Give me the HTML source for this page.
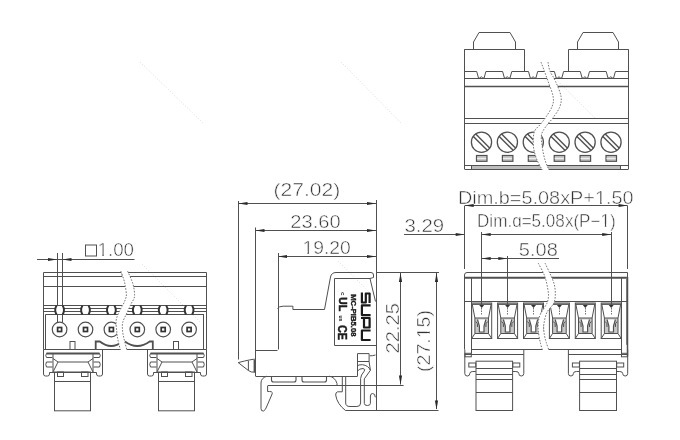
<!DOCTYPE html>
<html><head><meta charset="utf-8"><style>
html,body{margin:0;padding:0;background:#fff;width:680px;height:440px;overflow:hidden}
svg{display:block;will-change:transform}
text{font-family:"Liberation Sans",sans-serif}
</style></head><body>
<svg width="680" height="440" viewBox="0 0 680 440" stroke="#505050" fill="none" stroke-linecap="butt">
<rect x="0" y="0" width="680" height="440" fill="#fff" stroke="none"/>
<line x1="338" y1="261" x2="372" y2="295" stroke="#dddddd" stroke-width="1" stroke-dasharray="1,2"/>
<line x1="557.7" y1="81" x2="596" y2="119" stroke="#dddddd" stroke-width="1" stroke-dasharray="1,2"/>
<line x1="142" y1="264" x2="200" y2="322" stroke="#dddddd" stroke-width="1" stroke-dasharray="1,2"/>
<line x1="341" y1="62" x2="401" y2="123" stroke="#dddddd" stroke-width="1" stroke-dasharray="1,2"/>
<line x1="140" y1="62" x2="203" y2="123" stroke="#dddddd" stroke-width="1" stroke-dasharray="1,2"/>
<line x1="37.00" y1="259.50" x2="134.50" y2="259.50" stroke-width="1"/>
<path d="M57.00,259.50 L48.00,261.10 L48.00,257.90 Z" fill="#2a2a2a" stroke="none"/>
<path d="M62.50,259.50 L71.50,257.90 L71.50,261.10 Z" fill="#2a2a2a" stroke="none"/>
<line x1="57.50" y1="253.00" x2="57.50" y2="322.00" stroke-width="1"/>
<line x1="62.50" y1="253.00" x2="62.50" y2="322.00" stroke-width="1"/>
<rect x="85.50" y="245.00" width="11.00" height="11.00" stroke-width="1" fill="none"/>
<text x="97.50" y="256.30" font-size="17.5" text-anchor="start" fill="#333" stroke="#fff" stroke-width="0.5" textLength="36.5" lengthAdjust="spacingAndGlyphs">1.00</text>
<path d="M43.5,349.5 L43.5,272.5 L121,272.5 M128,272.5 L206.5,272.5 L206.5,349.5" stroke-width="1" fill="none"/>
<path d="M121,272.5 Q123.5,273 122,276.5 M128,272.5 Q126.5,274 128,276.5" stroke-width="1" fill="none"/>
<line x1="43.50" y1="276.50" x2="122.00" y2="276.50" stroke-width="1"/>
<line x1="128.00" y1="276.50" x2="206.50" y2="276.50" stroke-width="1"/>
<line x1="43.50" y1="286.50" x2="125.00" y2="286.50" stroke-width="1"/>
<line x1="133.00" y1="286.50" x2="206.50" y2="286.50" stroke-width="1"/>
<line x1="43.50" y1="305.50" x2="122.00" y2="305.50" stroke-width="1"/>
<line x1="129.00" y1="305.50" x2="206.50" y2="305.50" stroke-width="1"/>
<line x1="43.50" y1="308.50" x2="121.00" y2="308.50" stroke-width="1"/>
<line x1="128.00" y1="308.50" x2="206.50" y2="308.50" stroke-width="1"/>
<line x1="43.50" y1="311.50" x2="120.00" y2="311.50" stroke-width="1"/>
<line x1="127.00" y1="311.50" x2="206.50" y2="311.50" stroke-width="1"/>
<line x1="45.50" y1="314.50" x2="119.00" y2="314.50" stroke-width="1"/>
<line x1="126.00" y1="314.50" x2="204.00" y2="314.50" stroke-width="1"/>
<line x1="45.50" y1="314.50" x2="45.50" y2="349.50" stroke-width="1"/>
<line x1="203.50" y1="314.50" x2="203.50" y2="349.50" stroke-width="1"/>
<line x1="43.50" y1="349.50" x2="206.50" y2="349.50" stroke-width="1"/>
<rect x="55.60" y="306" width="8" height="8" fill="#fff" stroke="none"/>
<path d="M56.60,305.5 Q53.80,310 56.60,314.5 M62.60,305.5 Q65.40,310 62.60,314.5" stroke-width="1.9" fill="none" stroke="#333"/>
<circle cx="59.60" cy="329.5" r="7.3" fill="none" stroke-width="1.2"/>
<rect x="57.60" y="327.5" width="4" height="4" fill="none" stroke-width="1.7" stroke="#333"/>
<rect x="81.50" y="306" width="8" height="8" fill="#fff" stroke="none"/>
<path d="M82.50,305.5 Q79.70,310 82.50,314.5 M88.50,305.5 Q91.30,310 88.50,314.5" stroke-width="1.9" fill="none" stroke="#333"/>
<circle cx="85.50" cy="329.5" r="7.3" fill="none" stroke-width="1.2"/>
<rect x="83.50" y="327.5" width="4" height="4" fill="none" stroke-width="1.7" stroke="#333"/>
<rect x="107.40" y="306" width="8" height="8" fill="#fff" stroke="none"/>
<path d="M108.40,305.5 Q105.60,310 108.40,314.5 M114.40,305.5 Q117.20,310 114.40,314.5" stroke-width="1.9" fill="none" stroke="#333"/>
<circle cx="111.40" cy="329.5" r="7.3" fill="none" stroke-width="1.2"/>
<rect x="109.40" y="327.5" width="4" height="4" fill="none" stroke-width="1.7" stroke="#333"/>
<rect x="133.30" y="306" width="8" height="8" fill="#fff" stroke="none"/>
<path d="M134.30,305.5 Q131.50,310 134.30,314.5 M140.30,305.5 Q143.10,310 140.30,314.5" stroke-width="1.9" fill="none" stroke="#333"/>
<circle cx="137.30" cy="329.5" r="7.3" fill="none" stroke-width="1.2"/>
<rect x="135.30" y="327.5" width="4" height="4" fill="none" stroke-width="1.7" stroke="#333"/>
<rect x="159.20" y="306" width="8" height="8" fill="#fff" stroke="none"/>
<path d="M160.20,305.5 Q157.40,310 160.20,314.5 M166.20,305.5 Q169.00,310 166.20,314.5" stroke-width="1.9" fill="none" stroke="#333"/>
<circle cx="163.20" cy="329.5" r="7.3" fill="none" stroke-width="1.2"/>
<rect x="161.20" y="327.5" width="4" height="4" fill="none" stroke-width="1.7" stroke="#333"/>
<rect x="185.10" y="306" width="8" height="8" fill="#fff" stroke="none"/>
<path d="M186.10,305.5 Q183.30,310 186.10,314.5 M192.10,305.5 Q194.90,310 192.10,314.5" stroke-width="1.9" fill="none" stroke="#333"/>
<circle cx="189.10" cy="329.5" r="7.3" fill="none" stroke-width="1.2"/>
<rect x="187.10" y="327.5" width="4" height="4" fill="none" stroke-width="1.7" stroke="#333"/>
<rect x="70.00" y="341.50" width="5.00" height="8.00" stroke-width="1" fill="none"/>
<rect x="173.50" y="341.50" width="5.00" height="8.00" stroke-width="1" fill="none"/>
<path d="M95.7,349.5 L95.7,341.5 L99.8,341.5 Q111.2,350.5 122.6,341.5" stroke-width="1.8" fill="none"/>
<path d="M124.9,341.5 Q137.2,350.5 149.7,341.5 L152.8,341.5 L152.8,349.5" stroke-width="1.8" fill="none"/>
<path d="M43.50,349.5 L43.50,374 Q43.50,376 45.50,376 L47.50,376 Q49.50,376 49.50,374 L49.50,372.5 L96.50,372.5 L96.50,374 Q96.50,376 98.50,376 L100.50,376 Q102.50,376 102.50,374 L102.50,349.5" stroke-width="1" fill="none"/>
<line x1="46.50" y1="353.50" x2="99.50" y2="353.50" stroke-width="1.8"/>
<path d="M46.50,353.5 L52.50,353.5 M46.50,357.5 L52.50,357.5 M46.50,362 L52.50,362 M46.50,367 L52.50,367 M46.50,353.5 Q45.00,355.5 46.50,357.5 M46.50,362 Q45.00,364.5 46.50,367" stroke-width="1" fill="none"/>
<path d="M99.50,353.5 L93.50,353.5 M99.50,357.5 L93.50,357.5 M99.50,362 L93.50,362 M99.50,367 L93.50,367 M99.50,353.5 Q101.00,355.5 99.50,357.5 M99.50,362 Q101.00,364.5 99.50,367" stroke-width="1" fill="none"/>
<path d="M53.00,353.5 L53.00,372.5 M93.00,353.5 L93.00,372.5" stroke-width="1" fill="none"/>
<path d="M58.00,362 L88.00,362 M53.00,372.5 L93.00,372.5 M58.00,362 L53.00,372 M88.00,362 L93.00,372 M53.00,358.5 L58.00,362 M93.00,358.5 L88.00,362" stroke-width="1" fill="none"/>
<rect x="57.50" y="372.00" width="6.00" height="4.50" stroke-width="1" fill="none"/>
<rect x="81.50" y="372.00" width="6.50" height="4.50" stroke-width="1" fill="none"/>
<rect x="54.50" y="372.00" width="36.00" height="38.80" stroke-width="1" fill="none"/>
<line x1="54.50" y1="381.50" x2="90.50" y2="381.50" stroke-width="1"/>
<path d="M147.50,349.5 L147.50,374 Q147.50,376 149.50,376 L151.50,376 Q153.50,376 153.50,374 L153.50,372.5 L200.50,372.5 L200.50,374 Q200.50,376 202.50,376 L204.50,376 Q206.50,376 206.50,374 L206.50,349.5" stroke-width="1" fill="none"/>
<line x1="150.50" y1="353.50" x2="203.50" y2="353.50" stroke-width="1.8"/>
<path d="M150.50,353.5 L156.50,353.5 M150.50,357.5 L156.50,357.5 M150.50,362 L156.50,362 M150.50,367 L156.50,367 M150.50,353.5 Q149.00,355.5 150.50,357.5 M150.50,362 Q149.00,364.5 150.50,367" stroke-width="1" fill="none"/>
<path d="M203.50,353.5 L197.50,353.5 M203.50,357.5 L197.50,357.5 M203.50,362 L197.50,362 M203.50,367 L197.50,367 M203.50,353.5 Q205.00,355.5 203.50,357.5 M203.50,362 Q205.00,364.5 203.50,367" stroke-width="1" fill="none"/>
<path d="M157.00,353.5 L157.00,372.5 M197.00,353.5 L197.00,372.5" stroke-width="1" fill="none"/>
<path d="M162.00,362 L192.00,362 M157.00,372.5 L197.00,372.5 M162.00,362 L157.00,372 M192.00,362 L197.00,372 M157.00,358.5 L162.00,362 M197.00,358.5 L192.00,362" stroke-width="1" fill="none"/>
<rect x="161.50" y="372.00" width="6.00" height="4.50" stroke-width="1" fill="none"/>
<rect x="185.50" y="372.00" width="6.50" height="4.50" stroke-width="1" fill="none"/>
<rect x="158.50" y="372.00" width="36.00" height="38.80" stroke-width="1" fill="none"/>
<line x1="158.50" y1="381.50" x2="194.50" y2="381.50" stroke-width="1"/>
<path d="M120.80,271.00 C121.32,272.48 123.13,277.30 123.90,279.90 C124.67,282.50 124.98,284.12 125.40,286.60 C125.82,289.08 126.38,292.73 126.40,294.80 C126.42,296.87 126.00,297.47 125.50,299.00 C125.00,300.53 124.35,302.07 123.40,304.00 C122.45,305.93 121.00,307.92 119.80,310.60 C118.60,313.28 116.70,316.55 116.20,320.10 C115.70,323.65 116.50,328.55 116.80,331.90 C117.10,335.25 117.40,337.18 118.00,340.20 C118.60,343.22 120.00,348.37 120.40,350.00 L126.90,350.00 C126.50,348.47 125.20,343.82 124.50,340.80 C123.80,337.78 123.00,334.95 122.70,331.90 C122.40,328.85 122.00,325.65 122.70,322.50 C123.40,319.35 125.52,316.08 126.90,313.00 C128.28,309.92 129.85,306.33 131.00,304.00 C132.15,301.67 133.20,300.53 133.80,299.00 C134.40,297.47 134.63,296.87 134.60,294.80 C134.57,292.73 134.12,289.08 133.60,286.60 C133.08,284.12 132.52,282.50 131.50,279.90 C130.48,277.30 128.17,272.48 127.50,271.00 Z" fill="#fff" stroke="none"/>
<path d="M120.80,271.00 C121.32,272.48 123.13,277.30 123.90,279.90 C124.67,282.50 124.98,284.12 125.40,286.60 C125.82,289.08 126.38,292.73 126.40,294.80 C126.42,296.87 126.00,297.47 125.50,299.00 C125.00,300.53 124.35,302.07 123.40,304.00 C122.45,305.93 121.00,307.92 119.80,310.60 C118.60,313.28 116.70,316.55 116.20,320.10 C115.70,323.65 116.50,328.55 116.80,331.90 C117.10,335.25 117.40,337.18 118.00,340.20 C118.60,343.22 120.00,348.37 120.40,350.00" fill="none" stroke-width="1" stroke-dasharray="1.6,1.4" stroke="#777"/>
<path d="M127.50,271.00 C128.17,272.48 130.48,277.30 131.50,279.90 C132.52,282.50 133.08,284.12 133.60,286.60 C134.12,289.08 134.57,292.73 134.60,294.80 C134.63,296.87 134.40,297.47 133.80,299.00 C133.20,300.53 132.15,301.67 131.00,304.00 C129.85,306.33 128.28,309.92 126.90,313.00 C125.52,316.08 123.40,319.35 122.70,322.50 C122.00,325.65 122.40,328.85 122.70,331.90 C123.00,334.95 123.80,337.78 124.50,340.80 C125.20,343.82 126.50,348.47 126.90,350.00" fill="none" stroke-width="1" stroke-dasharray="1.6,1.4" stroke="#777"/>
<line x1="238.50" y1="201.00" x2="238.50" y2="359.50" stroke-width="1"/>
<line x1="255.50" y1="227.50" x2="255.50" y2="376.00" stroke-width="1"/>
<line x1="278.50" y1="253.00" x2="278.50" y2="349.50" stroke-width="1"/>
<line x1="376.50" y1="200.00" x2="376.50" y2="411.00" stroke-width="1"/>
<line x1="238.50" y1="203.50" x2="376.00" y2="203.50" stroke-width="1"/>
<path d="M238.50,203.50 L247.50,201.90 L247.50,205.10 Z" fill="#2a2a2a" stroke="none"/>
<path d="M376.00,203.50 L367.00,205.10 L367.00,201.90 Z" fill="#2a2a2a" stroke="none"/>
<line x1="255.50" y1="230.50" x2="376.00" y2="230.50" stroke-width="1"/>
<path d="M255.50,230.50 L264.50,228.90 L264.50,232.10 Z" fill="#2a2a2a" stroke="none"/>
<path d="M376.00,230.50 L367.00,232.10 L367.00,228.90 Z" fill="#2a2a2a" stroke="none"/>
<line x1="278.00" y1="256.50" x2="376.00" y2="256.50" stroke-width="1"/>
<path d="M278.00,256.50 L287.00,254.90 L287.00,258.10 Z" fill="#2a2a2a" stroke="none"/>
<path d="M376.00,256.50 L367.00,258.10 L367.00,254.90 Z" fill="#2a2a2a" stroke="none"/>
<text x="273.50" y="196.00" font-size="17.5" text-anchor="start" fill="#333" stroke="#fff" stroke-width="0.5" textLength="66.7" lengthAdjust="spacingAndGlyphs">(27.02)</text>
<text x="290.30" y="227.80" font-size="17.5" text-anchor="start" fill="#333" stroke="#fff" stroke-width="0.5" textLength="50.3" lengthAdjust="spacingAndGlyphs">23.60</text>
<text x="302.50" y="253.90" font-size="17.5" text-anchor="start" fill="#333" stroke="#fff" stroke-width="0.5" textLength="48.3" lengthAdjust="spacingAndGlyphs">19.20</text>
<path d="M277.5,308.5 Q279,306.2 283.2,306.2 L292.9,306.2 L292.9,309.5 L324.5,309.5 L330.5,277 Q331.5,272.5 336,272.5 L371,272.5 Q373.5,272.5 373.5,275 L373.5,277.5 L370,278.5" stroke-width="1" fill="none"/>
<path d="M334.5,345.5 L334.5,278.5 L370,278.5 L375.5,301.5 M334.5,345.5 L376,345.5" stroke-width="1" fill="none"/>
<line x1="255.50" y1="350.50" x2="277.50" y2="350.50" stroke-width="1"/>
<line x1="255.50" y1="376.50" x2="357.50" y2="376.50" stroke-width="1"/>
<path d="M255.5,359.2 Q252,359 238.2,362.6 L248.4,370.5 Q250.5,372.5 255.5,372.3 M248.4,360.8 L248.4,370.5" stroke-width="1" fill="none"/>
<line x1="254.30" y1="360.00" x2="254.30" y2="372.00" stroke-width="1.4"/>
<path d="M271.5,376.2 L271.5,380 Q271.5,382 273.5,382 L294,382 Q296,382 296,380 L296,376.2 M302,376.2 L302,380 Q302,382 304,382 L324.5,382 Q326.5,382 326.5,380 L326.5,376.2" stroke-width="1.1" fill="none"/>
<path d="M266.9,376.2 Q261,378 261,383 L261,408.5 Q261,411.5 263.5,411 Q265.5,410 266.5,407 L272.2,393.8 L272.2,392.5 Q272,391.5 269.5,391.5 L267.6,391.5 L267.6,386" stroke-width="1" fill="none"/>
<line x1="267.60" y1="385.50" x2="403.60" y2="385.50" stroke-width="1"/>
<line x1="345.50" y1="410.50" x2="438.50" y2="410.50" stroke-width="1"/>
<path d="M329.1,376.2 Q335,377 337,383.5 L337,386 M342.3,376.2 L342.3,391.8 L337.5,391.8 Q335.5,392.5 335.7,395 Q337,404 345.5,410.5" stroke-width="1" fill="none"/>
<path d="M345.7,376.5 L345.7,403 Q345.7,406.5 350,406.5 L356.9,406.5 Q360.6,406.5 360.6,403 L360.6,378.5 Q360.8,375 364,371.5 Q366,369 363,368.5 Q359.5,368.5 357.5,371" stroke-width="1" fill="none"/>
<path d="M357.5,376.2 L357.5,353.6 L369.1,353.6 L369.1,361.5 L357.5,361.5 M369.8,355.8 Q372,356 375.5,355" stroke-width="1" fill="none"/>
<path d="M357.5,366 Q358,364.5 362.4,364.7 Q368.5,365.5 370.4,370.3 L364.3,378.9 L364.3,403.4 Q364.3,405.5 367.3,405.5 Q370.4,405.5 370.4,403.4 L370.4,396 Q370.6,393.5 372.5,393.5 Q375.3,393.5 375.3,397.3" stroke-width="1" fill="none"/>
<path d="M369.1,361.5 L370.4,370.3" stroke-width="1" fill="none"/>
<line x1="376.00" y1="272.50" x2="439.00" y2="272.50" stroke-width="1"/>
<line x1="400.50" y1="273.00" x2="400.50" y2="384.50" stroke-width="1"/>
<path d="M400.50,273.00 L402.10,282.00 L398.90,282.00 Z" fill="#2a2a2a" stroke="none"/>
<path d="M400.50,384.50 L398.90,375.50 L402.10,375.50 Z" fill="#2a2a2a" stroke="none"/>
<line x1="436.50" y1="273.00" x2="436.50" y2="409.00" stroke-width="1"/>
<path d="M436.50,273.00 L438.10,282.00 L434.90,282.00 Z" fill="#2a2a2a" stroke="none"/>
<path d="M436.50,409.50 L434.90,400.50 L438.10,400.50 Z" fill="#2a2a2a" stroke="none"/>
<text x="0.00" y="0.00" font-size="17.5" text-anchor="start" fill="#333" stroke="#fff" stroke-width="0.5" textLength="50.5" lengthAdjust="spacingAndGlyphs" transform="translate(398.8,353.5) rotate(-90)">22.25</text>
<text x="0.00" y="0.00" font-size="17.5" text-anchor="start" fill="#333" stroke="#fff" stroke-width="0.5" textLength="62.0" lengthAdjust="spacingAndGlyphs" transform="translate(429.5,372) rotate(-90)">(27.15)</text>
<g transform="translate(361,292.5) rotate(90)" stroke="none" fill="#222"><path d="M10.5,-8.6 L1,-8.6 L1,-4.8 L10,-4.8 L10,-0.9 L0,-0.9 M12.9,-9.6 L12.9,-0.9 L22.6,-0.9 L22.6,-9.6 M25.5,0 L25.5,-8.6 L35,-8.6 L35,-3 L25.5,-3 M38,-9.6 L38,-0.9 L47.5,-0.9 L47.5,-9.6" fill="none" stroke="#1a1a1a" stroke-width="2.2" stroke-linejoin="round"/><text x="1.7" y="10.3" font-size="8" font-weight="bold" stroke="#111" stroke-width="0.35" textLength="42.3" lengthAdjust="spacingAndGlyphs">MC-PIB5.08</text><text x="-0.5" y="20.5" font-size="6" font-weight="bold">c</text><text x="4.5" y="22" font-size="11.5" font-weight="bold" stroke="#111" stroke-width="0.5" textLength="14.3" lengthAdjust="spacingAndGlyphs">UL</text><text x="22.9" y="22.5" font-size="6" font-weight="bold" textLength="6" lengthAdjust="spacingAndGlyphs">us</text><text x="32.5" y="23" font-size="12.5" font-weight="bold" stroke="#111" stroke-width="0.4" textLength="15" lengthAdjust="spacingAndGlyphs">CE</text></g>
<path d="M464.50,71.7 L464.50,49.5 L524.50,49.5 L524.50,71.7" stroke-width="1" fill="none"/>
<path d="M473.50,49.5 L473.50,42 L479.00,32.5 L510.00,32.5 L515.50,42 L515.50,49.5" stroke-width="1" fill="none"/>
<path d="M568.50,71.7 L568.50,49.5 L628.50,49.5 L628.50,71.7" stroke-width="1" fill="none"/>
<path d="M577.50,49.5 L577.50,42 L583.00,32.5 L613.00,32.5 L618.50,42 L618.50,49.5" stroke-width="1" fill="none"/>
<path d="M464.5,71.5 L476.70,71.5 L478.50,78 L479.70,78 Q481.30,75.5 482.90,78 L484.10,78 L485.90,71.5 L502.60,71.5 L504.40,78 L505.60,78 Q507.20,75.5 508.80,78 L510.00,78 L511.80,71.5 L528.50,71.5 L530.30,78 L531.50,78 Q533.10,75.5 534.70,78 L535.90,78 L537.70,71.5 L554.40,71.5 L556.20,78 L557.40,78 Q559.00,75.5 560.60,78 L561.80,78 L563.60,71.5 L580.30,71.5 L582.10,78 L583.30,78 Q584.90,75.5 586.50,78 L587.70,78 L589.50,71.5 L606.20,71.5 L608.00,78 L609.20,78 Q610.80,75.5 612.40,78 L613.60,78 L615.40,71.5 L628,71.5" stroke-width="1" fill="none"/>
<line x1="465.00" y1="78.50" x2="628.00" y2="78.50" stroke-width="1"/>
<line x1="465.00" y1="86.50" x2="628.00" y2="86.50" stroke-width="1.4"/>
<line x1="465.00" y1="118.50" x2="628.00" y2="118.50" stroke-width="1"/>
<line x1="465.00" y1="123.50" x2="628.00" y2="123.50" stroke-width="1"/>
<line x1="464.50" y1="49.50" x2="464.50" y2="169.50" stroke-width="1"/>
<line x1="628.50" y1="49.50" x2="628.50" y2="169.50" stroke-width="1"/>
<circle cx="481.50" cy="142.2" r="10.1" fill="none" stroke-width="1.3"/>
<line x1="473.10" y1="136.20" x2="487.50" y2="150.60" stroke-width="1.4"/>
<line x1="475.50" y1="133.80" x2="489.90" y2="148.20" stroke-width="1.4"/>
<rect x="476.50" y="155.5" width="10.5" height="5.8" fill="#c8c8c8" stroke-width="1.2"/>
<line x1="477.00" y1="158.50" x2="486.00" y2="158.50" stroke-width="1" stroke="#eee"/>
<circle cx="507.40" cy="142.2" r="10.1" fill="none" stroke-width="1.3"/>
<line x1="499.00" y1="136.20" x2="513.40" y2="150.60" stroke-width="1.4"/>
<line x1="501.40" y1="133.80" x2="515.80" y2="148.20" stroke-width="1.4"/>
<rect x="502.40" y="155.5" width="10.5" height="5.8" fill="#c8c8c8" stroke-width="1.2"/>
<line x1="502.90" y1="158.50" x2="511.90" y2="158.50" stroke-width="1" stroke="#eee"/>
<circle cx="533.30" cy="142.2" r="10.1" fill="none" stroke-width="1.3"/>
<line x1="524.90" y1="136.20" x2="539.30" y2="150.60" stroke-width="1.4"/>
<line x1="527.30" y1="133.80" x2="541.70" y2="148.20" stroke-width="1.4"/>
<rect x="528.30" y="155.5" width="10.5" height="5.8" fill="#c8c8c8" stroke-width="1.2"/>
<line x1="528.80" y1="158.50" x2="537.80" y2="158.50" stroke-width="1" stroke="#eee"/>
<circle cx="559.20" cy="142.2" r="10.1" fill="none" stroke-width="1.3"/>
<line x1="550.80" y1="136.20" x2="565.20" y2="150.60" stroke-width="1.4"/>
<line x1="553.20" y1="133.80" x2="567.60" y2="148.20" stroke-width="1.4"/>
<rect x="554.20" y="155.5" width="10.5" height="5.8" fill="#c8c8c8" stroke-width="1.2"/>
<line x1="554.70" y1="158.50" x2="563.70" y2="158.50" stroke-width="1" stroke="#eee"/>
<circle cx="585.10" cy="142.2" r="10.1" fill="none" stroke-width="1.3"/>
<line x1="576.70" y1="136.20" x2="591.10" y2="150.60" stroke-width="1.4"/>
<line x1="579.10" y1="133.80" x2="593.50" y2="148.20" stroke-width="1.4"/>
<rect x="580.10" y="155.5" width="10.5" height="5.8" fill="#c8c8c8" stroke-width="1.2"/>
<line x1="580.60" y1="158.50" x2="589.60" y2="158.50" stroke-width="1" stroke="#eee"/>
<circle cx="611.00" cy="142.2" r="10.1" fill="none" stroke-width="1.3"/>
<line x1="602.60" y1="136.20" x2="617.00" y2="150.60" stroke-width="1.4"/>
<line x1="605.00" y1="133.80" x2="619.40" y2="148.20" stroke-width="1.4"/>
<rect x="606.00" y="155.5" width="10.5" height="5.8" fill="#c8c8c8" stroke-width="1.2"/>
<line x1="606.50" y1="158.50" x2="615.50" y2="158.50" stroke-width="1" stroke="#eee"/>
<line x1="465.00" y1="165.50" x2="628.00" y2="165.50" stroke-width="1.2"/>
<line x1="465.00" y1="169.50" x2="628.00" y2="169.50" stroke-width="1.2"/>
<rect x="471.5" y="166" width="149" height="3" fill="#bdbdbd" stroke="none"/>
<line x1="471.50" y1="166.00" x2="471.50" y2="169.50" stroke-width="1"/>
<line x1="620.50" y1="166.00" x2="620.50" y2="169.50" stroke-width="1"/>
<path d="M541.00,62.00 C541.55,63.48 543.08,67.57 544.30,70.90 C545.52,74.23 546.83,77.75 548.30,82.00 C549.77,86.25 552.43,92.40 553.10,96.40 C553.77,100.40 553.50,102.55 552.30,106.00 C551.10,109.45 547.88,114.05 545.90,117.10 C543.92,120.15 542.35,121.78 540.40,124.30 C538.45,126.82 535.35,128.42 534.20,132.20 C533.05,135.98 533.03,142.37 533.50,147.00 C533.97,151.63 535.53,156.17 537.00,160.00 C538.47,163.83 541.42,168.33 542.30,170.00 L549.00,170.00 C548.33,168.33 546.12,163.83 545.00,160.00 C543.88,156.17 542.87,151.27 542.30,147.00 C541.73,142.73 540.73,138.18 541.60,134.40 C542.47,130.62 545.72,126.92 547.50,124.30 C549.28,121.68 550.30,121.50 552.30,118.70 C554.30,115.90 558.05,111.22 559.50,107.50 C560.95,103.78 561.67,100.77 561.00,96.40 C560.33,92.03 557.35,85.55 555.50,81.30 C553.65,77.05 551.15,74.12 549.90,70.90 C548.65,67.68 548.32,63.48 548.00,62.00 Z" fill="#fff" stroke="none"/>
<path d="M541.00,62.00 C541.55,63.48 543.08,67.57 544.30,70.90 C545.52,74.23 546.83,77.75 548.30,82.00 C549.77,86.25 552.43,92.40 553.10,96.40 C553.77,100.40 553.50,102.55 552.30,106.00 C551.10,109.45 547.88,114.05 545.90,117.10 C543.92,120.15 542.35,121.78 540.40,124.30 C538.45,126.82 535.35,128.42 534.20,132.20 C533.05,135.98 533.03,142.37 533.50,147.00 C533.97,151.63 535.53,156.17 537.00,160.00 C538.47,163.83 541.42,168.33 542.30,170.00" fill="none" stroke-width="1" stroke-dasharray="1.6,1.4" stroke="#777"/>
<path d="M548.00,62.00 C548.32,63.48 548.65,67.68 549.90,70.90 C551.15,74.12 553.65,77.05 555.50,81.30 C557.35,85.55 560.33,92.03 561.00,96.40 C561.67,100.77 560.95,103.78 559.50,107.50 C558.05,111.22 554.30,115.90 552.30,118.70 C550.30,121.50 549.28,121.68 547.50,124.30 C545.72,126.92 542.47,130.62 541.60,134.40 C540.73,138.18 541.73,142.73 542.30,147.00 C542.87,151.27 543.88,156.17 545.00,160.00 C546.12,163.83 548.33,168.33 549.00,170.00" fill="none" stroke-width="1" stroke-dasharray="1.6,1.4" stroke="#777"/>
<text x="457.90" y="203.50" font-size="17.5" text-anchor="start" fill="#333" stroke="#fff" stroke-width="0.5" textLength="175.8" lengthAdjust="spacingAndGlyphs">Dim.b=5.08xP+1.50</text>
<line x1="464.70" y1="205.50" x2="627.60" y2="205.50" stroke-width="1"/>
<path d="M464.70,205.50 L473.70,203.90 L473.70,207.10 Z" fill="#2a2a2a" stroke="none"/>
<path d="M627.60,205.50 L618.60,207.10 L618.60,203.90 Z" fill="#2a2a2a" stroke="none"/>
<line x1="464.50" y1="205.80" x2="464.50" y2="269.00" stroke-width="1"/>
<line x1="627.50" y1="205.80" x2="627.50" y2="269.00" stroke-width="1"/>
<text x="477.00" y="226.80" font-size="17.5" text-anchor="start" fill="#333" stroke="#fff" stroke-width="0.5" textLength="138.7" lengthAdjust="spacingAndGlyphs">Dim.ɑ=5.08x(P−1)</text>
<line x1="481.70" y1="234.50" x2="611.20" y2="234.50" stroke-width="1"/>
<path d="M481.70,234.50 L490.70,232.90 L490.70,236.10 Z" fill="#2a2a2a" stroke="none"/>
<path d="M611.20,234.50 L602.20,236.10 L602.20,232.90 Z" fill="#2a2a2a" stroke="none"/>
<line x1="481.50" y1="232.00" x2="481.50" y2="305.00" stroke-width="1"/>
<line x1="611.50" y1="232.00" x2="611.50" y2="305.00" stroke-width="1"/>
<text x="404.50" y="232.20" font-size="17.5" text-anchor="start" fill="#333" stroke="#fff" stroke-width="0.5" textLength="39.7" lengthAdjust="spacingAndGlyphs">3.29</text>
<line x1="404.00" y1="234.50" x2="464.70" y2="234.50" stroke-width="1"/>
<path d="M464.70,234.50 L455.70,236.10 L455.70,232.90 Z" fill="#2a2a2a" stroke="none"/>
<text x="518.80" y="256.40" font-size="17.5" text-anchor="start" fill="#333" stroke="#fff" stroke-width="0.5" textLength="39.0" lengthAdjust="spacingAndGlyphs">5.08</text>
<line x1="481.70" y1="258.50" x2="559.00" y2="258.50" stroke-width="1"/>
<path d="M481.70,258.50 L490.70,256.90 L490.70,260.10 Z" fill="#2a2a2a" stroke="none"/>
<path d="M507.30,258.50 L498.30,260.10 L498.30,256.90 Z" fill="#2a2a2a" stroke="none"/>
<line x1="507.50" y1="256.00" x2="507.50" y2="305.00" stroke-width="1"/>
<path d="M464.5,349.5 L464.5,275 Q464.5,272.5 467,272.5 L627.5,272.5 L627.5,356.5" stroke-width="1" fill="none"/>
<line x1="464.50" y1="277.70" x2="627.70" y2="277.70" stroke-width="2"/>
<line x1="471.50" y1="277.70" x2="471.50" y2="353.50" stroke-width="1"/>
<line x1="621.50" y1="277.70" x2="621.50" y2="353.50" stroke-width="1"/>
<line x1="626.50" y1="277.70" x2="626.50" y2="344.80" stroke-width="1" stroke="#888"/>
<line x1="627.50" y1="277.00" x2="627.50" y2="356.50" stroke-width="1.5"/>
<rect x="621.50" y="353.30" width="6.00" height="3.50" stroke-width="1" fill="none"/>
<rect x="465.00" y="353.30" width="6.30" height="3.50" stroke-width="1" fill="none"/>
<line x1="464.50" y1="301.50" x2="627.70" y2="301.50" stroke-width="1"/>
<line x1="471.30" y1="349.50" x2="621.40" y2="349.50" stroke-width="1"/>
<path d="M474.90,318 L488.50,318 L488.50,333.5 L474.90,333.5 Z M477.50,319.5 L485.90,319.5 L484.00,326 L484.00,332 L479.40,332 L479.40,326 Z" fill="#c8c8c8" fill-rule="evenodd" stroke="none"/>
<rect x="471.70" y="303.00" width="20.00" height="35.50" stroke-width="1" fill="none"/>
<line x1="472.20" y1="304.20" x2="491.20" y2="304.20" stroke-width="1.4"/>
<path d="M472.20,304 L474.90,318 L474.90,333.5 L488.50,333.5 L488.50,318 L491.20,304 M474.90,318 L488.50,318" stroke-width="1" fill="none"/>
<path d="M471.70,338.5 L474.90,333.5 M488.50,333.5 L491.70,338.5" stroke-width="1" fill="none"/>
<path d="M477.50,319.5 L479.40,326 L479.40,332 L484.00,332 L484.00,326 L485.90,319.5" stroke-width="1.2" fill="none"/>
<path d="M475.70,321.5 Q478.20,323 477.50,327 M487.70,321.5 Q485.20,323 485.90,327" stroke-width="1" fill="none"/>
<path d="M479.20,305 L484.20,305 L481.70,308 Z" fill="#333" stroke="none"/>
<line x1="481.50" y1="308.00" x2="481.50" y2="315.50" stroke-width="0.8" stroke-dasharray="1.5,1"/>
<path d="M500.80,318 L514.40,318 L514.40,333.5 L500.80,333.5 Z M503.40,319.5 L511.80,319.5 L509.90,326 L509.90,332 L505.30,332 L505.30,326 Z" fill="#c8c8c8" fill-rule="evenodd" stroke="none"/>
<rect x="497.60" y="303.00" width="20.00" height="35.50" stroke-width="1" fill="none"/>
<line x1="498.10" y1="304.20" x2="517.10" y2="304.20" stroke-width="1.4"/>
<path d="M498.10,304 L500.80,318 L500.80,333.5 L514.40,333.5 L514.40,318 L517.10,304 M500.80,318 L514.40,318" stroke-width="1" fill="none"/>
<path d="M497.60,338.5 L500.80,333.5 M514.40,333.5 L517.60,338.5" stroke-width="1" fill="none"/>
<path d="M503.40,319.5 L505.30,326 L505.30,332 L509.90,332 L509.90,326 L511.80,319.5" stroke-width="1.2" fill="none"/>
<path d="M501.60,321.5 Q504.10,323 503.40,327 M513.60,321.5 Q511.10,323 511.80,327" stroke-width="1" fill="none"/>
<path d="M505.10,305 L510.10,305 L507.60,308 Z" fill="#333" stroke="none"/>
<line x1="507.50" y1="308.00" x2="507.50" y2="315.50" stroke-width="0.8" stroke-dasharray="1.5,1"/>
<path d="M526.70,318 L540.30,318 L540.30,333.5 L526.70,333.5 Z M529.30,319.5 L537.70,319.5 L535.80,326 L535.80,332 L531.20,332 L531.20,326 Z" fill="#c8c8c8" fill-rule="evenodd" stroke="none"/>
<rect x="523.50" y="303.00" width="20.00" height="35.50" stroke-width="1" fill="none"/>
<line x1="524.00" y1="304.20" x2="543.00" y2="304.20" stroke-width="1.4"/>
<path d="M524.00,304 L526.70,318 L526.70,333.5 L540.30,333.5 L540.30,318 L543.00,304 M526.70,318 L540.30,318" stroke-width="1" fill="none"/>
<path d="M523.50,338.5 L526.70,333.5 M540.30,333.5 L543.50,338.5" stroke-width="1" fill="none"/>
<path d="M529.30,319.5 L531.20,326 L531.20,332 L535.80,332 L535.80,326 L537.70,319.5" stroke-width="1.2" fill="none"/>
<path d="M527.50,321.5 Q530.00,323 529.30,327 M539.50,321.5 Q537.00,323 537.70,327" stroke-width="1" fill="none"/>
<path d="M531.00,305 L536.00,305 L533.50,308 Z" fill="#333" stroke="none"/>
<line x1="533.50" y1="308.00" x2="533.50" y2="315.50" stroke-width="0.8" stroke-dasharray="1.5,1"/>
<path d="M552.60,318 L566.20,318 L566.20,333.5 L552.60,333.5 Z M555.20,319.5 L563.60,319.5 L561.70,326 L561.70,332 L557.10,332 L557.10,326 Z" fill="#c8c8c8" fill-rule="evenodd" stroke="none"/>
<rect x="549.40" y="303.00" width="20.00" height="35.50" stroke-width="1" fill="none"/>
<line x1="549.90" y1="304.20" x2="568.90" y2="304.20" stroke-width="1.4"/>
<path d="M549.90,304 L552.60,318 L552.60,333.5 L566.20,333.5 L566.20,318 L568.90,304 M552.60,318 L566.20,318" stroke-width="1" fill="none"/>
<path d="M549.40,338.5 L552.60,333.5 M566.20,333.5 L569.40,338.5" stroke-width="1" fill="none"/>
<path d="M555.20,319.5 L557.10,326 L557.10,332 L561.70,332 L561.70,326 L563.60,319.5" stroke-width="1.2" fill="none"/>
<path d="M553.40,321.5 Q555.90,323 555.20,327 M565.40,321.5 Q562.90,323 563.60,327" stroke-width="1" fill="none"/>
<path d="M556.90,305 L561.90,305 L559.40,308 Z" fill="#333" stroke="none"/>
<line x1="559.50" y1="308.00" x2="559.50" y2="315.50" stroke-width="0.8" stroke-dasharray="1.5,1"/>
<path d="M578.50,318 L592.10,318 L592.10,333.5 L578.50,333.5 Z M581.10,319.5 L589.50,319.5 L587.60,326 L587.60,332 L583.00,332 L583.00,326 Z" fill="#c8c8c8" fill-rule="evenodd" stroke="none"/>
<rect x="575.30" y="303.00" width="20.00" height="35.50" stroke-width="1" fill="none"/>
<line x1="575.80" y1="304.20" x2="594.80" y2="304.20" stroke-width="1.4"/>
<path d="M575.80,304 L578.50,318 L578.50,333.5 L592.10,333.5 L592.10,318 L594.80,304 M578.50,318 L592.10,318" stroke-width="1" fill="none"/>
<path d="M575.30,338.5 L578.50,333.5 M592.10,333.5 L595.30,338.5" stroke-width="1" fill="none"/>
<path d="M581.10,319.5 L583.00,326 L583.00,332 L587.60,332 L587.60,326 L589.50,319.5" stroke-width="1.2" fill="none"/>
<path d="M579.30,321.5 Q581.80,323 581.10,327 M591.30,321.5 Q588.80,323 589.50,327" stroke-width="1" fill="none"/>
<path d="M582.80,305 L587.80,305 L585.30,308 Z" fill="#333" stroke="none"/>
<line x1="585.50" y1="308.00" x2="585.50" y2="315.50" stroke-width="0.8" stroke-dasharray="1.5,1"/>
<path d="M604.40,318 L618.00,318 L618.00,333.5 L604.40,333.5 Z M607.00,319.5 L615.40,319.5 L613.50,326 L613.50,332 L608.90,332 L608.90,326 Z" fill="#c8c8c8" fill-rule="evenodd" stroke="none"/>
<rect x="601.20" y="303.00" width="20.00" height="35.50" stroke-width="1" fill="none"/>
<line x1="601.70" y1="304.20" x2="620.70" y2="304.20" stroke-width="1.4"/>
<path d="M601.70,304 L604.40,318 L604.40,333.5 L618.00,333.5 L618.00,318 L620.70,304 M604.40,318 L618.00,318" stroke-width="1" fill="none"/>
<path d="M601.20,338.5 L604.40,333.5 M618.00,333.5 L621.20,338.5" stroke-width="1" fill="none"/>
<path d="M607.00,319.5 L608.90,326 L608.90,332 L613.50,332 L613.50,326 L615.40,319.5" stroke-width="1.2" fill="none"/>
<path d="M605.20,321.5 Q607.70,323 607.00,327 M617.20,321.5 Q614.70,323 615.40,327" stroke-width="1" fill="none"/>
<path d="M608.70,305 L613.70,305 L611.20,308 Z" fill="#333" stroke="none"/>
<line x1="611.50" y1="308.00" x2="611.50" y2="315.50" stroke-width="0.8" stroke-dasharray="1.5,1"/>
<path d="M464.80,349.5 L464.80,373.5 Q464.80,376 467.30,376 Q469.80,376 469.80,373.5 Q469.80,371.5 472.80,371.5 L475.80,371.5 M512.80,371.5 L515.80,371.5 Q518.80,371.5 518.80,373.5 Q518.80,376 521.30,376 Q523.80,376 523.80,373.5 L523.80,349.5" stroke-width="1" fill="none"/>
<line x1="464.80" y1="354.50" x2="523.80" y2="354.50" stroke-width="1"/>
<rect x="468.80" y="363.00" width="7.00" height="4.00" stroke-width="1" fill="none"/>
<rect x="512.80" y="363.00" width="7.00" height="4.00" stroke-width="1" fill="none"/>
<rect x="476.00" y="361.20" width="36.60" height="49.30" stroke-width="1" fill="none"/>
<line x1="476.00" y1="368.50" x2="512.60" y2="368.50" stroke-width="1"/>
<line x1="476.00" y1="374.50" x2="512.60" y2="374.50" stroke-width="1"/>
<line x1="476.00" y1="379.50" x2="512.60" y2="379.50" stroke-width="1"/>
<line x1="476.00" y1="392.50" x2="512.60" y2="392.50" stroke-width="1"/>
<path d="M568.40,349.5 L568.40,373.5 Q568.40,376 570.90,376 Q573.40,376 573.40,373.5 Q573.40,371.5 576.40,371.5 L579.40,371.5 M616.70,371.5 L619.70,371.5 Q622.70,371.5 622.70,373.5 Q622.70,376 625.20,376 Q627.70,376 627.70,373.5 L627.70,349.5" stroke-width="1" fill="none"/>
<line x1="568.40" y1="354.50" x2="627.70" y2="354.50" stroke-width="1"/>
<rect x="572.40" y="363.00" width="7.00" height="4.00" stroke-width="1" fill="none"/>
<rect x="616.70" y="363.00" width="7.00" height="4.00" stroke-width="1" fill="none"/>
<rect x="579.60" y="361.20" width="36.90" height="49.30" stroke-width="1" fill="none"/>
<line x1="579.60" y1="368.50" x2="616.50" y2="368.50" stroke-width="1"/>
<line x1="579.60" y1="374.50" x2="616.50" y2="374.50" stroke-width="1"/>
<line x1="579.60" y1="379.50" x2="616.50" y2="379.50" stroke-width="1"/>
<line x1="579.60" y1="392.50" x2="616.50" y2="392.50" stroke-width="1"/>
<path d="M538.20,263.00 C539.05,264.63 542.07,270.13 543.30,272.80 C544.53,275.47 544.93,276.73 545.60,279.00 C546.27,281.27 546.82,283.65 547.30,286.40 C547.78,289.15 548.58,292.65 548.50,295.50 C548.42,298.35 548.22,300.25 546.80,303.50 C545.38,306.75 541.45,311.42 540.00,315.00 C538.55,318.58 538.30,321.67 538.10,325.00 C537.90,328.33 538.38,331.87 538.80,335.00 C539.22,338.13 539.98,341.30 540.60,343.80 C541.22,346.30 542.18,348.97 542.50,350.00 L548.80,350.00 C548.38,348.75 547.03,345.00 546.30,342.50 C545.57,340.00 544.82,337.92 544.40,335.00 C543.98,332.08 543.38,328.75 543.80,325.00 C544.22,321.25 545.27,316.08 546.90,312.50 C548.53,308.92 552.20,306.33 553.60,303.50 C555.00,300.67 555.12,298.35 555.30,295.50 C555.48,292.65 555.18,289.15 554.70,286.40 C554.22,283.65 553.25,281.27 552.40,279.00 C551.55,276.73 550.83,275.47 549.60,272.80 C548.37,270.13 545.77,264.63 545.00,263.00 Z" fill="#fff" stroke="none"/>
<path d="M538.20,263.00 C539.05,264.63 542.07,270.13 543.30,272.80 C544.53,275.47 544.93,276.73 545.60,279.00 C546.27,281.27 546.82,283.65 547.30,286.40 C547.78,289.15 548.58,292.65 548.50,295.50 C548.42,298.35 548.22,300.25 546.80,303.50 C545.38,306.75 541.45,311.42 540.00,315.00 C538.55,318.58 538.30,321.67 538.10,325.00 C537.90,328.33 538.38,331.87 538.80,335.00 C539.22,338.13 539.98,341.30 540.60,343.80 C541.22,346.30 542.18,348.97 542.50,350.00" fill="none" stroke-width="1" stroke-dasharray="1.6,1.4" stroke="#777"/>
<path d="M545.00,263.00 C545.77,264.63 548.37,270.13 549.60,272.80 C550.83,275.47 551.55,276.73 552.40,279.00 C553.25,281.27 554.22,283.65 554.70,286.40 C555.18,289.15 555.48,292.65 555.30,295.50 C555.12,298.35 555.00,300.67 553.60,303.50 C552.20,306.33 548.53,308.92 546.90,312.50 C545.27,316.08 544.22,321.25 543.80,325.00 C543.38,328.75 543.98,332.08 544.40,335.00 C544.82,337.92 545.57,340.00 546.30,342.50 C547.03,345.00 548.38,348.75 548.80,350.00" fill="none" stroke-width="1" stroke-dasharray="1.6,1.4" stroke="#777"/>
<rect x="98.33" y="253.70" width="3.91" height="3.2" fill="#fff" stroke="none"/><rect x="103.88" y="253.70" width="3.76" height="3.2" fill="#fff" stroke="none"/>
<rect x="303.36" y="251.30" width="4.03" height="3.2" fill="#fff" stroke="none"/><rect x="309.07" y="251.30" width="3.86" height="3.2" fill="#fff" stroke="none"/>
<g transform="translate(429.5,372) rotate(-90)"><rect x="34.57" y="-2.60" width="4.09" height="3.2" fill="#fff" stroke="none"/><rect x="40.37" y="-2.60" width="3.92" height="3.2" fill="#fff" stroke="none"/></g>
<rect x="595.86" y="200.90" width="4.16" height="3.2" fill="#fff" stroke="none"/><rect x="601.75" y="200.90" width="3.99" height="3.2" fill="#fff" stroke="none"/>
<rect x="601.25" y="224.20" width="3.57" height="3.2" fill="#fff" stroke="none"/><rect x="606.31" y="224.20" width="3.43" height="3.2" fill="#fff" stroke="none"/>
</svg>
</body></html>
